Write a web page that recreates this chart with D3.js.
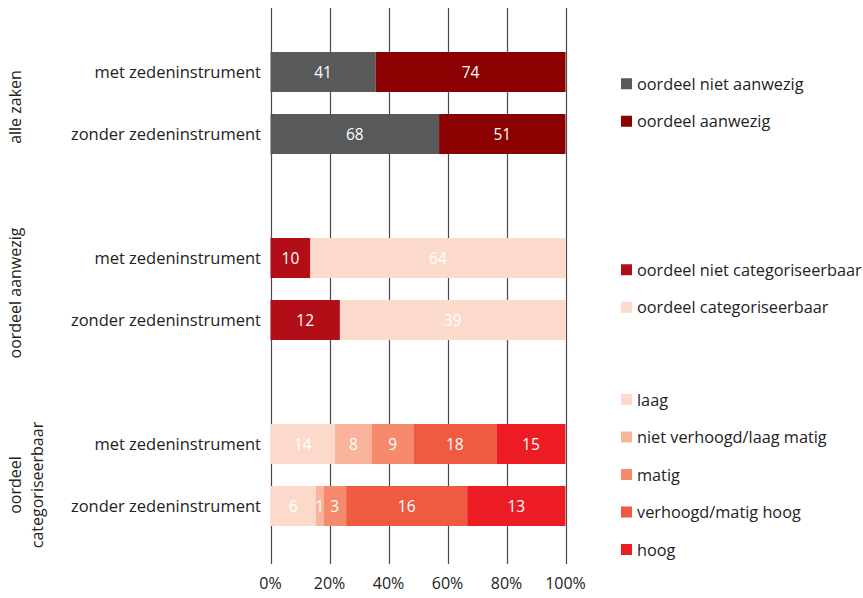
<!DOCTYPE html>
<html><head><meta charset="utf-8">
<script src="https://cdn.jsdelivr.net/npm/d3@7"></script>
<style>
body{margin:0;background:#fff;}
text{font-family:"Open Sans",sans-serif;}
</style></head>
<body><svg id="c" width="863" height="598"></svg>
<script>
// ---- data ----
const groups = ["alle zaken", "oordeel aanwezig", "oordeel categoriseerbaar"];
const rowLabels = ["met zedeninstrument", "zonder zedeninstrument"];
const seriesAll = ["oordeel niet aanwezig", "oordeel aanwezig"];
const valuesAll = [[41, 74], [68, 51]];
const seriesPresent = ["oordeel niet categoriseerbaar", "oordeel categoriseerbaar"];
const valuesPresent = [[10, 64], [12, 39]];
const seriesCat = ["laag", "niet verhoogd/laag matig", "matig", "verhoogd/matig hoog", "hoog"];
const valuesCat = [[14, 8, 9, 18, 15], [6, 1, 3, 16, 13]];
const colorsAll = ["#58595b", "#8b0000"];
const colorsPresent = ["#b20e17", "#fbdacc"];
const colorsCat = ["#fbdacc", "#f9b49b", "#f58a6d", "#f05a41", "#ed1c24"];
const xTicks = [0, 0.2, 0.4, 0.6, 0.8, 1];
const xTickLabels = ["0%", "20%", "40%", "60%", "80%", "100%"];

const blocks = [
  {group: groups[0], series: seriesAll, values: valuesAll, colors: colorsAll, lines: ["alle zaken"]},
  {group: groups[1], series: seriesPresent, values: valuesPresent, colors: colorsPresent, lines: ["oordeel aanwezig"]},
  {group: groups[2], series: seriesCat, values: valuesCat, colors: colorsCat, lines: ["oordeel", "categoriseerbaar"]}
];

// ---- layout ----
const svg = d3.select("#c");
const x = d3.scaleLinear().domain([0, 1]).range([270.5, 565.5]);
const slots = [];
blocks.forEach((b, bi) => {
  if (bi > 0) slots.push("gap" + bi);
  rowLabels.forEach(r => slots.push(b.group + "|" + r));
});
const y = d3.scaleBand().domain(slots).range([41, 537]).paddingInner(0.355).paddingOuter(0.1775);

// gridlines
svg.append("g").selectAll("line").data(xTicks).join("line")
  .attr("x1", d => Math.round(x(d)) + 0.5).attr("x2", d => Math.round(x(d)) + 0.5)
  .attr("y1", 8).attr("y2", 564)
  .attr("stroke", "#4a4a4a").attr("stroke-width", 1.2);

// axis labels
svg.append("g").selectAll("text").data(xTicks).join("text")
  .attr("x", d => x(d)).attr("y", 589)
  .attr("text-anchor", "middle").attr("font-size", 16).attr("fill", "#222")
  .text((d, i) => xTickLabels[i]);

blocks.forEach((b, bi) => {
  const g = svg.append("g");
  b.values.forEach((vals, ri) => {
    const key = b.group + "|" + rowLabels[ri];
    const total = d3.sum(vals);
    const cum = d3.cumsum(vals);
    const segs = vals.map((v, i) => ({v, i, x0: (cum[i] - v) / total, x1: cum[i] / total}));
    const y0 = y(key), h = y.bandwidth();
    g.selectAll(null).data(segs).join("rect")
      .attr("x", d => x(d.x0)).attr("width", d => x(d.x1) - x(d.x0))
      .attr("y", y0).attr("height", h)
      .attr("fill", d => b.colors[d.i]);
    g.selectAll(null).data(segs).join("text")
      .attr("x", d => (x(d.x0) + x(d.x1)) / 2).attr("y", y0 + h / 2 + 5.5)
      .attr("text-anchor", "middle").attr("font-size", 15.5).attr("fill", "#fff")
      .text(d => d.v);
    g.append("text")
      .attr("x", 261).attr("y", y0 + h / 2 + 5.5)
      .attr("text-anchor", "end").attr("font-size", 16.5).attr("fill", "#222")
      .text(rowLabels[ri]);
  });
  const k0 = b.group + "|" + rowLabels[0], k1 = b.group + "|" + rowLabels[1];
  const mid = (y(k0) + y(k1) + y.bandwidth()) / 2;
  // group label (rotated)
  const lx = 21;
  const tl = g.append("text")
    .attr("transform", `translate(${lx},${mid + (b.lines.length > 1 ? 10 : 4)}) rotate(-90)`)
    .attr("text-anchor", "middle").attr("font-size", 16).attr("fill", "#222");
  b.lines.forEach((ln, li) => {
    tl.append("tspan").attr("x", 0).attr("dy", li === 0 ? 0 : 22).text(ln);
  });
  // legend
  const step = 37.5;
  const n = b.series.length;
  const lg = g.append("g");
  b.series.forEach((s, i) => {
    const cy = mid + (i - (n - 1) / 2) * step;
    lg.append("rect").attr("x", 621).attr("y", cy - 6).attr("width", 11).attr("height", 11).attr("fill", b.colors[i]);
    lg.append("text").attr("x", 637).attr("y", cy + 5.5).attr("font-size", 16.3).attr("fill", "#222").text(s);
  });
});
</script></body></html>
